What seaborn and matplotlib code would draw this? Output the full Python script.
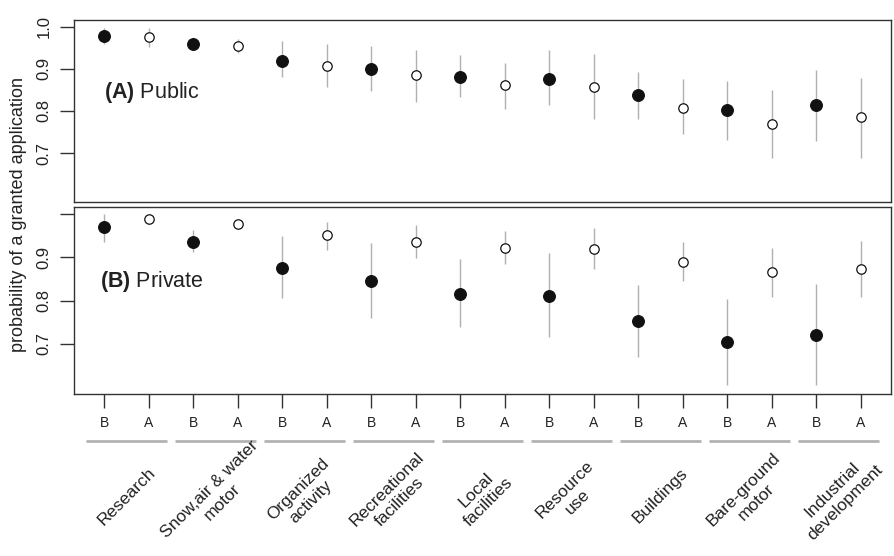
import numpy as np
import pandas as pd
import matplotlib
matplotlib.use('Agg')
import matplotlib.pyplot as plt
import matplotlib.transforms as mtransforms
import seaborn as sns

# categories (each has a B and an A estimate)
categories = ['Research', 'Snow,air & water\nmotor', 'Organized\nactivity', 'Recreational\nfacilities',
              'Local\nfacilities', 'Resource\nuse', 'Buildings', 'Bare-ground\nmotor', 'Industrial\ndevelopment']
periods = ['B', 'A']

# (A) Public
public_b = [0.978, 0.958, 0.919, 0.900, 0.880, 0.877, 0.837, 0.802, 0.814]
public_b_lo = [0.958, 0.948, 0.880, 0.847, 0.833, 0.814, 0.781, 0.732, 0.728]
public_b_hi = [0.998, 0.968, 0.965, 0.955, 0.932, 0.944, 0.892, 0.872, 0.898]
public_a = [0.976, 0.955, 0.908, 0.885, 0.861, 0.858, 0.808, 0.770, 0.786]
public_a_lo = [0.953, 0.937, 0.857, 0.821, 0.804, 0.781, 0.745, 0.689, 0.689]
public_a_hi = [0.998, 0.971, 0.958, 0.944, 0.915, 0.935, 0.875, 0.849, 0.879]

# (B) Private
private_b = [0.969, 0.936, 0.876, 0.844, 0.815, 0.811, 0.753, 0.705, 0.721]
private_b_lo = [0.936, 0.913, 0.806, 0.760, 0.738, 0.715, 0.670, 0.604, 0.604]
private_b_hi = [1.000, 0.962, 0.948, 0.932, 0.896, 0.909, 0.835, 0.803, 0.838]
private_a = [0.988, 0.977, 0.952, 0.935, 0.922, 0.919, 0.890, 0.865, 0.873]
private_a_lo = [0.982, 0.970, 0.917, 0.898, 0.885, 0.873, 0.844, 0.808, 0.808]
private_a_hi = [0.994, 0.984, 0.981, 0.975, 0.961, 0.968, 0.935, 0.922, 0.938]

y_ticks = [0.7, 0.8, 0.9, 1.0]


def make_df(b, b_lo, b_hi, a, a_lo, a_hi):
    rows = []
    for i, cat in enumerate(categories):
        rows.append(dict(cat=cat, period='B', pos=2 * i + 1, prob=b[i], lo=b_lo[i], hi=b_hi[i]))
        rows.append(dict(cat=cat, period='A', pos=2 * i + 2, prob=a[i], lo=a_lo[i], hi=a_hi[i]))
    return pd.DataFrame(rows)


df_pub = make_df(public_b, public_b_lo, public_b_hi, public_a, public_a_lo, public_a_hi)
df_priv = make_df(private_b, private_b_lo, private_b_hi, private_a, private_a_lo, private_a_hi)

sns.set_theme(style='ticks')
plt.rcParams['font.family'] = ['Liberation Sans', 'DejaVu Sans']
plt.rcParams['mathtext.fontset'] = 'custom'
plt.rcParams['mathtext.rm'] = 'Liberation Sans'
plt.rcParams['mathtext.bf'] = 'Liberation Sans:bold'
plt.rcParams['axes.edgecolor'] = '#333333'

fig = plt.figure(figsize=(8.94, 5.56), dpi=100)
W, H = 894, 556
ax_a = fig.add_axes([74 / W, 1 - 202 / H, 817 / W, 182 / H])
ax_b = fig.add_axes([74 / W, 1 - 394 / H, 817 / W, 187 / H])

panels = [(ax_a, df_pub, ['0.7', '0.8', '0.9', '1.0']),
          (ax_b, df_priv, ['0.7', '0.8', '0.9', ''])]

for ax, d, ylabels in panels:
    ax.vlines(d['pos'], d['lo'], d['hi'], color='#b0b0b0', lw=1, zorder=1)
    sns.scatterplot(data=d[d['period'] == 'B'], x='pos', y='prob', color='#111111',
                    edgecolor='#111111', linewidth=0.8, s=72, ax=ax, zorder=3)
    sns.scatterplot(data=d[d['period'] == 'A'], x='pos', y='prob', color='white',
                    edgecolor='#111111', linewidth=0.9, s=46, ax=ax, zorder=3)
    ax.set_xlim(0.32, 18.68)
    ax.set_ylim(0.584, 1.016)
    ax.set_yticks(y_ticks)
    ax.set_yticklabels(ylabels, rotation=90, va='center', fontsize=12, color='#222222')
    ax.set_xlabel('')
    ax.set_ylabel('')
    for sp in ax.spines.values():
        sp.set_visible(True)
        sp.set_linewidth(1)
        sp.set_color('#333333')
    ax.tick_params(axis='y', direction='out', length=10, width=1, color='#333333', pad=6)

# panel tags
ax_a.text(1.0, 0.843, r'$\mathbf{(A)}$ Public', fontsize=15.5, va='center', ha='left', color='#222222')
ax_b.text(0.9, 0.843, r'$\mathbf{(B)}$ Private', fontsize=15.5, va='center', ha='left', color='#222222')

ax_a.tick_params(axis='x', bottom=False, labelbottom=False)
ax_b.set_xticks(df_priv['pos'])
ax_b.set_xticklabels(df_priv['period'], fontsize=10, color='#222222')
ax_b.tick_params(axis='x', direction='out', length=10, width=1, color='#333333', pad=6)

# grey bracket lines and rotated category labels
trans = mtransforms.blended_transform_factory(ax_b.transData, fig.transFigure)
for i, cat in enumerate(categories):
    c = 2 * i + 1.5
    ax_b.plot([c - 0.9, c + 0.9], [1 - 441 / H, 1 - 441 / H], color='#b3b3b3', lw=2,
              solid_capstyle='butt', transform=trans, clip_on=False)
    ax_b.text(c, 1 - 496 / H, cat, transform=trans, rotation=45, ha='center', va='center',
              rotation_mode='anchor', multialignment='center', fontsize=12.5, color='#222222',
              linespacing=1.25)

fig.text(19 / W, 1 - 214 / H, 'probability of a granted application', rotation=90,
         ha='center', va='center', fontsize=13, color='#222222')

fig.savefig('out.png', dpi=100)
